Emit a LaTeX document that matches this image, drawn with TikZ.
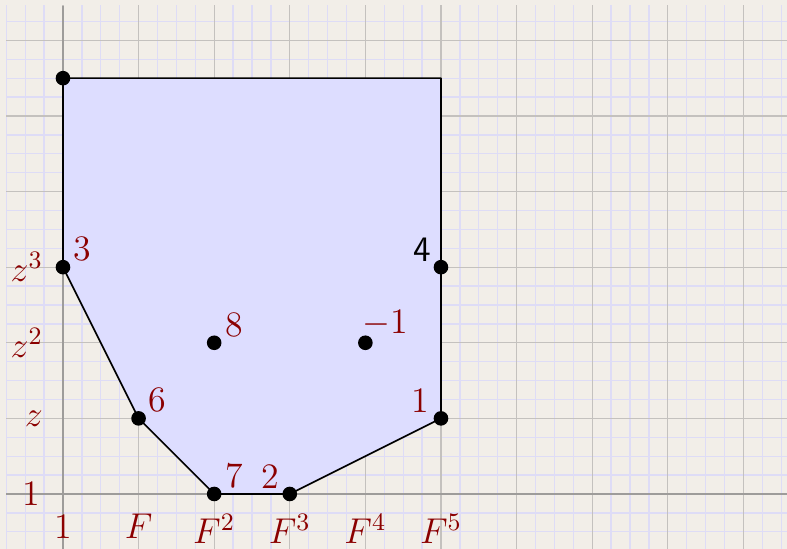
\documentclass[tikz,border=0pt]{standalone}
\usepackage{fix-cm}
\definecolor{bg}{HTML}{F2EEE8}
\definecolor{minorc}{HTML}{DEDCF6}
\definecolor{majorc}{HTML}{C4C1BE}
\definecolor{axisc}{HTML}{9E9C9A}
\definecolor{polyfill}{HTML}{DDDDFF}
\definecolor{lab}{HTML}{8B0000}
\begin{document}
\begin{tikzpicture}[x=1cm,y=1cm,font=\fontsize{13.5}{16}\selectfont,
  dot/.style={circle,fill=black,inner sep=0pt,minimum size=5.5pt},
  ptlab/.style={text=lab,inner sep=0pt},
  blklab/.style={text=black,inner sep=0pt,font=\fontsize{13.5}{16}\selectfont\sffamily},
  axlab/.style={text=lab,inner sep=0pt}]
\fill[bg] (-0.833,-0.7275) rectangle (9.577,6.534);
\useasboundingbox (-0.833,-0.7275) rectangle (9.577,6.534);
\begin{scope}
  \clip (-0.76,-0.7275) rectangle (9.577,6.455);
  \draw[minorc,line width=0.5pt,step=0.25] (-0.75,-0.75) grid (9.75,6.5);
  \draw[majorc,line width=0.5pt,step=1] (-0.75,-0.75) grid (9.75,6.5);
  \draw[axisc,line width=0.6pt] (-0.75,0) -- (9.6,0);
  \draw[axisc,line width=0.6pt] (0,-0.75) -- (0,6.455);
\end{scope}
% vertices
\coordinate (a) at (0,5.5);
\coordinate (b) at (5,5.5);
\coordinate (c) at (5,1);
\coordinate (d) at (3,0);
\coordinate (e) at (2,0);
\coordinate (f) at (1,1);
\coordinate (g) at (0,3);
\coordinate (h) at (5,3);
\coordinate (i) at (2,2);
\coordinate (j) at (4,2);
\draw[fill=polyfill,line width=0.6pt,line join=round] (a) -- (b) -- (c) -- (d) -- (e) -- (f) -- (g) -- cycle;
\foreach \p in {a,c,d,e,f,g,h,i,j} \node[dot] (n\p) at (\p) {};
% point labels
\node[ptlab,anchor=south west] (lg) at ([shift={(0.13,0.07)}]g) {3};
\node[ptlab,anchor=south west] (lf) at ([shift={(0.12,0.07)}]f) {6};
\node[ptlab,anchor=south west] (li) at ([shift={(0.14,0.07)}]i) {8};
\node[ptlab,anchor=south west] (lj) at ([shift={(-0.05,0.07)}]j) {$-1$};
\node[ptlab,anchor=south west] (le) at ([shift={(0.14,0.07)}]e) {7};
\node[ptlab,anchor=south east] (ld) at ([shift={(-0.13,0.07)}]d) {2};
\node[ptlab,anchor=south east] (lc) at ([shift={(-0.15,0.07)}]c) {1};
\node[blklab,anchor=south east] (lh) at ([shift={(-0.12,0.07)}]h) {4};
% axis labels
\node[axlab,anchor=north] (x0) at (0,-0.26) {1};
\node[axlab,anchor=north] (x1) at (1,-0.26) {$F$};
\node[axlab,anchor=north] (x2) at (2,-0.26) {$F^2$};
\node[axlab,anchor=north] (x3) at (3,-0.26) {$F^3$};
\node[axlab,anchor=north] (x4) at (4,-0.26) {$F^4$};
\node[axlab,anchor=north] (x5) at (5,-0.26) {$F^5$};
\node[axlab,anchor=east] (y0) at (-0.29,0) {1};
\node[axlab,anchor=east] (y1) at (-0.26,1) {$z$};
\node[axlab,anchor=east] (y2) at (-0.26,2) {$z^2$};
\node[axlab,anchor=east] (y3) at (-0.26,3) {$z^3$};
\end{tikzpicture}
\end{document}
